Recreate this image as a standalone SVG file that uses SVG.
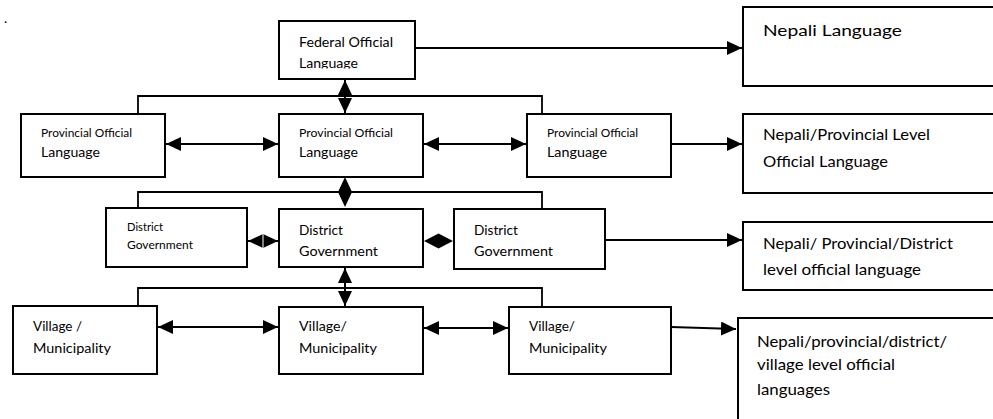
<svg xmlns="http://www.w3.org/2000/svg" width="993" height="419" viewBox="0 0 993 419">
<style>
.box{fill:#fff;stroke:#000;stroke-width:2}
.ln{fill:none;stroke:#000;stroke-width:2}
.bus{fill:none;stroke:#000;stroke-width:1.8}
.hd{fill:#000;stroke:none}
text{font-family:Lato,"Open Sans","Liberation Sans",sans-serif;fill:#000}
.lg{font-size:16px}
.md{font-size:14px}
.sm{font-size:11.5px}
</style>
<defs>
<marker id="ah" markerUnits="userSpaceOnUse" markerWidth="16" markerHeight="15" refX="15" refY="7" orient="auto-start-reverse" viewBox="0 0 16 15">
<path d="M0,0 L15,7 L0,14 z" fill="#000"/>
</marker>
<clipPath id="fedclip"><rect x="279" y="21" width="136" height="47.5"/></clipPath>
</defs>
<rect width="993" height="419" fill="#fff"/>
<text x="4" y="23" class="md">.</text>

<g id="connectors">
<!-- bus lines -->
<polyline class="bus" points="138,114 138,96 542,96 542,114"/>
<polyline class="bus" points="138,208 138,192 542,192 542,209"/>
<polyline class="bus" points="138,306 138,288 542,288 542,307"/>
<!-- federal -> nepali -->
<line class="ln" x1="415" y1="48" x2="742" y2="48" marker-end="url(#ah)"/>
<!-- federal <-> provincial -->
<line class="ln" x1="345" y1="80" x2="345" y2="113" marker-start="url(#ah)" marker-end="url(#ah)"/>
<!-- provincial row -->
<line class="ln" x1="166" y1="144" x2="278" y2="144" marker-start="url(#ah)" marker-end="url(#ah)"/>
<line class="ln" x1="424" y1="144" x2="526" y2="144" marker-start="url(#ah)" marker-end="url(#ah)"/>
<line class="ln" x1="671" y1="144" x2="742" y2="144" marker-end="url(#ah)"/>
<!-- provincial - district diamond -->
<polygon class="hd" points="345,177 352,192 345,207 338,192"/>
<!-- district row -->
<line class="ln" x1="248" y1="241" x2="278" y2="241" marker-start="url(#ah)" marker-end="url(#ah)"/>
<line x1="263" y1="233" x2="263" y2="249" stroke="#fff" stroke-width="1"/>
<polygon class="hd" points="424,241 438.5,233.5 453,241 438.5,248.5"/>
<line class="ln" x1="605" y1="240" x2="742" y2="240" marker-end="url(#ah)"/>
<!-- district <-> village -->
<line class="ln" x1="345" y1="268" x2="345" y2="306" marker-start="url(#ah)" marker-end="url(#ah)"/>
<!-- village row -->
<line class="ln" x1="158" y1="327" x2="278" y2="327" marker-start="url(#ah)" marker-end="url(#ah)"/>
<line class="ln" x1="424" y1="328" x2="508" y2="328" marker-start="url(#ah)" marker-end="url(#ah)"/>
<line class="ln" x1="671" y1="327" x2="736" y2="329" marker-end="url(#ah)"/>
</g>

<g id="federal">
<rect class="box" x="279" y="21" width="136" height="58"/>
<g clip-path="url(#fedclip)">
<text class="md" x="299" y="47" textLength="94" lengthAdjust="spacingAndGlyphs">Federal Official</text>
<text class="md" x="299" y="68" textLength="59" lengthAdjust="spacingAndGlyphs">Language</text>
</g>
</g>
<g id="nepali-language">
<rect class="box" x="743" y="7" width="252" height="79"/>
<text class="lg" x="763" y="36" textLength="139" lengthAdjust="spacingAndGlyphs">Nepali Language</text>
</g>

<g id="provincial-left">
<rect class="box" x="21" y="114" width="144" height="63"/>
<text class="sm" x="41" y="137" textLength="91" lengthAdjust="spacingAndGlyphs">Provincial Official</text>
<text class="md" x="41" y="157" textLength="59" lengthAdjust="spacingAndGlyphs">Language</text>
</g>
<g id="provincial-center">
<rect class="box" x="279" y="114" width="144" height="63"/>
<text class="sm" x="299" y="137" textLength="94" lengthAdjust="spacingAndGlyphs">Provincial  Official</text>
<text class="md" x="299" y="157" textLength="59" lengthAdjust="spacingAndGlyphs">Language</text>
</g>
<g id="provincial-right">
<rect class="box" x="527" y="114" width="144" height="63"/>
<text class="sm" x="547" y="137" textLength="91" lengthAdjust="spacingAndGlyphs">Provincial Official</text>
<text class="md" x="547" y="157" textLength="60" lengthAdjust="spacingAndGlyphs">Language</text>
</g>
<g id="nepali-provincial">
<rect class="box" x="743" y="114" width="252" height="79"/>
<text class="lg" x="763" y="140" textLength="167" lengthAdjust="spacingAndGlyphs">Nepali/Provincial Level</text>
<text class="lg" x="763" y="167" textLength="125" lengthAdjust="spacingAndGlyphs">Official Language</text>
</g>

<g id="district-left">
<rect class="box" x="106" y="208" width="141" height="59"/>
<text class="sm" x="127" y="231" textLength="36" lengthAdjust="spacingAndGlyphs">District</text>
<text class="sm" x="127" y="249" textLength="66" lengthAdjust="spacingAndGlyphs">Government</text>
</g>
<g id="district-center">
<rect class="box" x="279" y="209" width="144" height="58"/>
<text class="md" x="299" y="235" textLength="44" lengthAdjust="spacingAndGlyphs">District</text>
<text class="md" x="299" y="256" textLength="79" lengthAdjust="spacingAndGlyphs">Government</text>
</g>
<g id="district-right">
<rect class="box" x="454" y="209" width="151" height="60"/>
<text class="md" x="474" y="235" textLength="44" lengthAdjust="spacingAndGlyphs">District</text>
<text class="md" x="474" y="256" textLength="79" lengthAdjust="spacingAndGlyphs">Government</text>
</g>
<g id="nepali-provincial-district">
<rect class="box" x="743" y="222" width="252" height="68"/>
<text class="lg" x="763" y="249" textLength="190" lengthAdjust="spacingAndGlyphs">Nepali/ Provincial/District</text>
<text class="lg" x="763" y="275" textLength="158" lengthAdjust="spacingAndGlyphs">level official language</text>
</g>

<g id="village-left">
<rect class="box" x="13" y="306" width="144" height="68"/>
<text class="md" x="33" y="331" textLength="49" lengthAdjust="spacingAndGlyphs">Village /</text>
<text class="md" x="33" y="353" textLength="78" lengthAdjust="spacingAndGlyphs">Municipality</text>
</g>
<g id="village-center">
<rect class="box" x="279" y="307" width="144" height="67"/>
<text class="md" x="299" y="331" textLength="48" lengthAdjust="spacingAndGlyphs">Village/</text>
<text class="md" x="299" y="353" textLength="78" lengthAdjust="spacingAndGlyphs">Municipality</text>
</g>
<g id="village-right">
<rect class="box" x="509" y="307" width="162" height="67"/>
<text class="md" x="529" y="331" textLength="46" lengthAdjust="spacingAndGlyphs">Village/</text>
<text class="md" x="529" y="353" textLength="78" lengthAdjust="spacingAndGlyphs">Municipality</text>
</g>
<g id="nepali-all-levels">
<rect class="box" x="738" y="318" width="257" height="110"/>
<text class="lg" x="757" y="347" textLength="190" lengthAdjust="spacingAndGlyphs">Nepali/provincial/district/</text>
<text class="lg" x="757" y="370" textLength="138" lengthAdjust="spacingAndGlyphs">village level official</text>
<text class="lg" x="757" y="395" textLength="73" lengthAdjust="spacingAndGlyphs">languages</text>
</g>
</svg>
